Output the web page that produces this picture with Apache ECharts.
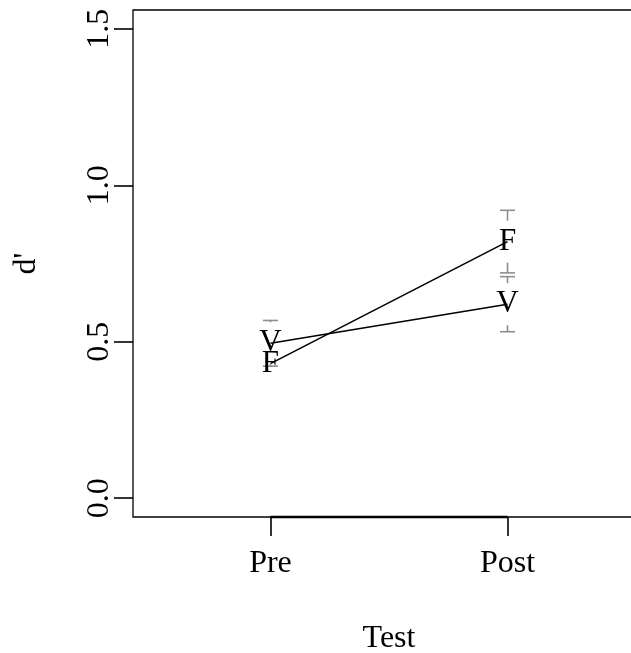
<!DOCTYPE html>
<html>
<head>
<meta charset="utf-8">
<script src="https://cdn.jsdelivr.net/npm/echarts@6/dist/echarts.min.js"></script>
<style>
  html, body { margin: 0; padding: 0; background: #fff; }
  #chart { width: 631px; height: 653px; }
</style>
</head>
<body>
<div id="chart"></div>
<script>
// Sensitivity (d') before and after training, two groups (F, V), mean ± SE
const categories = ['Pre', 'Post'];
const yTicks = [0, 0.5, 1.0, 1.5];
const fMeans = [0.43, 0.82];
const fErrors = [0.065, 0.10];
const vMeans = [0.495, 0.62];
const vErrors = [0.073, 0.088];

const FONT = '"Liberation Serif", "Times New Roman", serif';
const Y_MIN = -0.06, Y_MAX = 1.56;
const X_MIN = 0.42, X_MAX = 2.58;
const GAP = 21;      // px left open around each letter
const CAP = 7.5;     // half width of an error-bar cap
const GREY = '#8e8e8e';

const xPos = categories.map((_, i) => i + 1);

function points(means) {
  return means.map((m, i) => [xPos[i], m]);
}
function bars(means, errors) {
  return means.map((m, i) => [xPos[i], m, errors[i]]);
}

// Error bar arms start GAP px away from the mean; arms shorter than that are skipped
function renderErrorBar(params, api) {
  const x = api.value(0), m = api.value(1), e = api.value(2);
  const c = api.coord([x, m]);
  const children = [];
  [m + e, m - e].forEach(function (end) {
    const p = api.coord([x, end]);
    const dist = Math.abs(p[1] - c[1]);
    if (dist <= GAP) return;
    const dir = p[1] < c[1] ? -1 : 1;
    children.push({
      type: 'line',
      shape: { x1: c[0], y1: c[1] + dir * GAP, x2: p[0], y2: p[1] },
      style: { stroke: GREY, lineWidth: 1.6 }
    });
    children.push({
      type: 'line',
      shape: { x1: p[0] - CAP, y1: p[1], x2: p[0] + CAP, y2: p[1] },
      style: { stroke: GREY, lineWidth: 1.6 }
    });
  });
  return { type: 'group', children: children };
}

function letterSeries(name, means) {
  return {
    type: 'line',
    name: name,
    data: points(means),
    symbol: 'circle',
    symbolSize: 1,
    itemStyle: { color: 'rgba(0,0,0,0)' },
    lineStyle: { color: '#000', width: 1.6 },
    label: {
      show: true,
      position: 'inside',
      formatter: name,
      fontFamily: FONT,
      fontSize: 31,
      color: '#000'
    },
    z: 5,
    silent: true
  };
}

const chart = echarts.init(document.getElementById('chart'));
chart.setOption({
  animation: false,
  backgroundColor: '#fff',
  grid: {
    left: 133, top: 10, width: 512, height: 507,
    outerBoundsMode: 'none',
    containLabel: false,
    show: true, borderColor: '#000', borderWidth: 1.3, backgroundColor: 'transparent'
  },
  xAxis: {
    type: 'value',
    min: X_MIN, max: X_MAX,
    axisLine: { show: false, onZero: false },
    splitLine: { show: false },
    axisTick: {
      show: true, inside: false, customValues: xPos, length: 19,
      lineStyle: { color: '#000', width: 1.6 }
    },
    axisLabel: {
      customValues: xPos,
      formatter: function (v) { return categories[Math.round(v) - 1]; },
      margin: 31,
      fontFamily: FONT, fontSize: 32, color: '#000'
    },
    name: 'Test',
    nameLocation: 'middle',
    nameGap: 106,
    nameTextStyle: { fontFamily: FONT, fontSize: 32, color: '#000' }
  },
  yAxis: {
    type: 'value',
    min: Y_MIN, max: Y_MAX,
    axisLine: { show: false, onZero: false },
    splitLine: { show: false },
    axisTick: {
      show: true, inside: false, customValues: yTicks, length: 19,
      lineStyle: { color: '#000', width: 1.6 }
    },
    axisLabel: {
      customValues: yTicks,
      formatter: function (v) { return v.toFixed(1); },
      rotate: 90,
      margin: 17,
      fontFamily: FONT, fontSize: 32, color: '#000'
    },
    name: "d'",
    nameLocation: 'middle',
    nameRotate: 90,
    nameGap: 90,
    nameTextStyle: { fontFamily: FONT, fontSize: 32, color: '#000' }
  },
  series: [
    {
      // axis line between the two test points
      type: 'line',
      data: xPos.map(function (x) { return [x, Y_MIN]; }),
      symbol: 'none',
      lineStyle: { color: '#000', width: 2.4 },
      clip: false,
      silent: true,
      z: 3
    },
    {
      type: 'custom',
      name: 'F SE',
      data: bars(fMeans, fErrors),
      renderItem: renderErrorBar,
      clip: false,
      silent: true,
      z: 2
    },
    {
      type: 'custom',
      name: 'V SE',
      data: bars(vMeans, vErrors),
      renderItem: renderErrorBar,
      clip: false,
      silent: true,
      z: 2
    },
    letterSeries('F', fMeans),
    letterSeries('V', vMeans)
  ]
});
</script>
</body>
</html>
